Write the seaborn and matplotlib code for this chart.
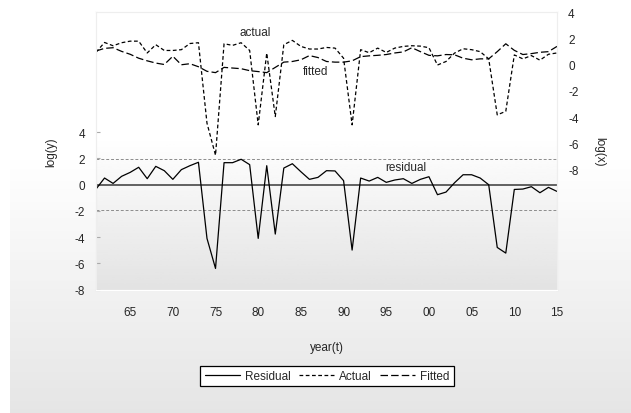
import numpy as np
import seaborn as sns
import matplotlib.pyplot as plt
from matplotlib.ticker import MultipleLocator, FuncFormatter

# annual observations 1961-2015
years = list(range(1961, 2016))

residual = [-0.33, 0.51, 0.10, 0.64, 0.94, 1.33, 0.46, 1.40, 1.07, 0.41,
            1.15, 1.45, 1.71, -4.09, -6.38, 1.68, 1.68, 1.94, 1.53, -4.09,
            1.45, -3.76, 1.27, 1.60, 0.99, 0.41, 0.56, 1.07, 1.05, 0.31,
            -4.98, 0.51, 0.28, 0.56, 0.18, 0.36, 0.46, 0.10, 0.41, 0.61,
            -0.76, -0.56, 0.15, 0.76, 0.76, 0.51, 0.00, -4.78, -5.21, -0.36,
            -0.33, -0.15, -0.61, -0.20, -0.51]

actual = [0.95, 1.70, 1.45, 1.68, 1.80, 1.80, 0.90, 1.53, 1.09, 1.09,
          1.15, 1.62, 1.68, -4.45, -6.90, 1.60, 1.48, 1.68, 1.09, -4.58,
          0.89, -3.95, 1.53, 1.86, 1.40, 1.20, 1.20, 1.32, 1.27, 0.50,
          -4.58, 1.15, 0.92, 1.27, 0.94, 1.27, 1.40, 1.45, 1.42, 1.30,
          -0.02, 0.25, 0.89, 1.22, 1.15, 1.00, 0.45, -3.82, -3.55, 0.75,
          0.45, 0.70, 0.35, 0.80, 0.90]

fitted = [1.05, 1.25, 1.30, 1.02, 0.80, 0.50, 0.30, 0.13, 0.02, 0.65,
          0.00, 0.08, -0.15, -0.50, -0.60, -0.20, -0.25, -0.30, -0.45, -0.52,
          -0.60, -0.20, 0.20, 0.25, 0.38, 0.70, 0.55, 0.25, 0.20, 0.20,
          0.30, 0.62, 0.68, 0.72, 0.78, 0.90, 0.98, 1.30, 1.00, 0.72,
          0.68, 0.78, 0.76, 0.50, 0.38, 0.45, 0.45, 1.00, 1.60, 1.10,
          0.78, 0.85, 0.95, 1.00, 1.40]

resid_se = 1.93
y_ticks = [-8, -6, -4, -2, 0, 2, 4]

sns.set_style("white")
plt.rcParams['font.family'] = ['Liberation Sans', 'DejaVu Sans']
plt.rcParams['font.size'] = 8.5
plt.rcParams['axes.unicode_minus'] = False

fig = plt.figure(figsize=(6.31, 4.14), dpi=100)

# grey gradient backdrop of the whole picture
bg = fig.add_axes([10 / 631, 0, 1 - 10 / 631, 1], zorder=-1)
bg_grad = np.concatenate([np.ones(36), np.linspace(1.0, 0.898, 64)]).reshape(-1, 1)
bg.imshow(bg_grad, extent=[0, 1, 0, 1], aspect='auto', cmap='gray', vmin=0, vmax=1)
bg.set_xlim(0, 1)
bg.set_ylim(0, 1)
bg.axis('off')

ax = fig.add_axes([96 / 631, 1 - 290.7 / 414, 461 / 631, 277.4 / 414])
ax_grad = np.concatenate([np.ones(45), np.linspace(1.0, 0.89, 55)]).reshape(-1, 1)
ax.imshow(ax_grad, extent=[0, 1, 0, 1], transform=ax.transAxes, aspect='auto',
          cmap='gray', vmin=0, vmax=1, zorder=0)

# residual with +/- 1 S.E. bands on the left axis
ax.axhline(0, color='#555555', lw=1.3, zorder=1.5)
ax.axhline(resid_se, color='#8c8c8c', lw=0.7, ls=(0, (3, 2)), zorder=1.5)
ax.axhline(-resid_se, color='#8c8c8c', lw=0.7, ls=(0, (3, 2)), zorder=1.5)
sns.lineplot(x=years, y=residual, ax=ax, color='black', lw=0.9,
             estimator=None, legend=False, zorder=3)
res_line = ax.lines[-1]

ax2 = ax.twinx()
sns.lineplot(x=years, y=actual, ax=ax2, color='black', lw=0.9,
             linestyle=(0, (3, 2)), estimator=None, legend=False)
act_line = ax2.lines[-1]
sns.lineplot(x=years, y=fitted, ax=ax2, color='black', lw=0.9,
             linestyle=(0, (6, 2.5)), estimator=None, legend=False)
fit_line = ax2.lines[-1]

ax.set_xlim(1961, 2015)
ax.set_ylim(-8, 13.14)
ax2.set_ylim(-17.15, 4.0)
ax.set_yticks(y_ticks)
ax2.set_yticks(y_ticks)

ax.xaxis.set_major_locator(MultipleLocator(5))
ax.xaxis.set_minor_locator(MultipleLocator(1))
ax.xaxis.set_major_formatter(FuncFormatter(lambda v, p: f"{int(round(v)) % 100:02d}"))

ax.tick_params(axis='x', which='major', length=4, color='white', pad=8, labelsize=8.5)
ax.tick_params(axis='x', which='minor', length=2, color='white')
ax.tick_params(axis='y', length=3, color='#aaaaaa', direction='in', pad=8, labelsize=8.5)
ax2.tick_params(axis='y', length=0, pad=8, labelsize=8.5)

for a in (ax, ax2):
    for s in a.spines.values():
        s.set_color('#eeeeee')
        s.set_linewidth(0.8)
    a.spines['bottom'].set_color('white')

ax.set_xlabel('year(t)', fontsize=8.5, labelpad=16)
ax.set_ylabel('log(y)', fontsize=8.5)
ax.yaxis.set_label_coords(-0.085, 0.5)
ax2.set_ylabel('log(x)', fontsize=8.5, rotation=270)
ax2.yaxis.set_label_coords(1.105, 0.5)

ax2.text(1979.7, 2.47, 'actual', ha='center', va='center', fontsize=8.5)
ax2.text(1986.7, -0.5, 'fitted', ha='center', va='center', fontsize=8.5)
ax.text(1997.3, 1.37, 'residual', ha='center', va='center', fontsize=8.5)

leg = fig.legend([res_line, act_line, fit_line], ['Residual', 'Actual', 'Fitted'],
                 loc='center', bbox_to_anchor=(327 / 631, 1 - 377 / 414), ncol=3,
                 frameon=True, fancybox=False, edgecolor='black', framealpha=1,
                 fontsize=8.5, handlelength=3.0, handletextpad=0.4,
                 columnspacing=0.7, borderpad=0.35)
leg.get_frame().set_linewidth(0.9)

fig.savefig('out.png', dpi=100)
